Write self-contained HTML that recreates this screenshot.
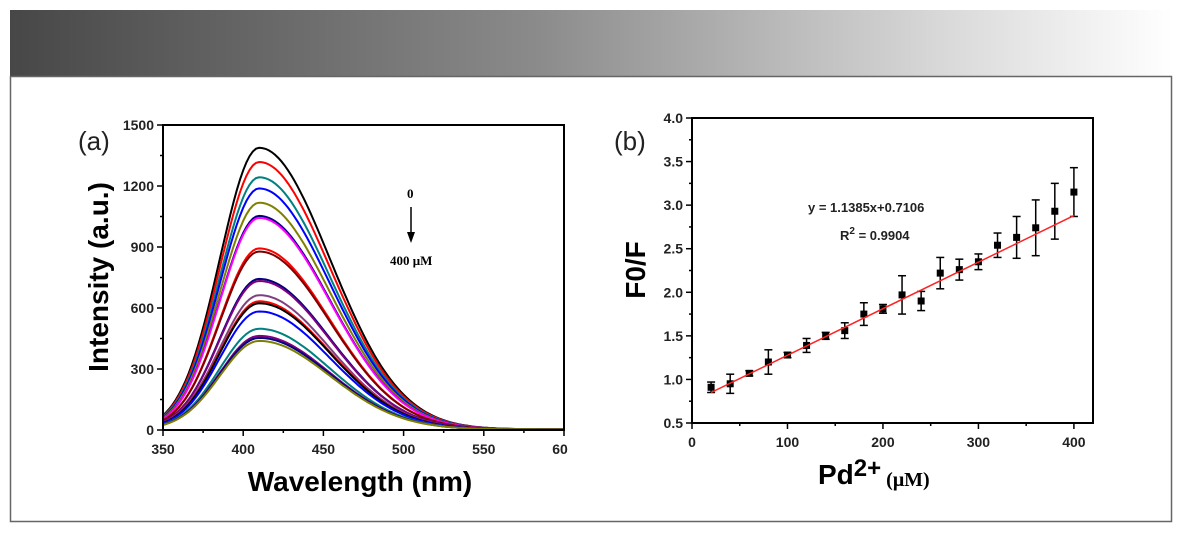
<!DOCTYPE html>
<html><head><meta charset="utf-8"><style>
body{margin:0;width:1182px;height:536px;background:#fff;overflow:hidden;font-family:"Liberation Sans",sans-serif}
svg{position:absolute;left:0;top:0}
</style></head><body>
<svg id="s" width="1182" height="536" xmlns="http://www.w3.org/2000/svg">
<defs><linearGradient id="hg" x1="0" x2="1"><stop offset="0" stop-color="#474747"/><stop offset="0.45" stop-color="#8a8a8a"/><stop offset="0.8" stop-color="#d8d8d8"/><stop offset="1" stop-color="#fff"/></linearGradient></defs>
<rect x="10" y="10" width="1162" height="66" fill="url(#hg)"/>
<rect x="10.5" y="76.5" width="1161" height="445" fill="#fff" stroke="#666" stroke-width="1.5"/>
<g id="a"></g><g id="b"></g>
</svg>
<script>
const NS="http://www.w3.org/2000/svg";
function el(p,t,at,txt){const e=document.createElementNS(NS,t);for(const k in at)e.setAttribute(k,at[k]);if(txt!==undefined)e.textContent=txt;p.appendChild(e);return e;}
// ---- Chart A data ----
const peakIntensities=[1385,1315,1240,1185,1115,1050,1040,890,875,740,730,660,630,620,580,495,460,450,435];
const curveColors=["#000","#f00","#008080","#00f","#808000","#000080","#f0f","#f00","#800000","#000080","#800080","#804080","#f00","#000","#00f","#008080","#800080","#000080","#808000"];
const xTicksA=[350,400,450,500,550,600];
const xTickLabelsA=["350","400","450","500","550","60"];
const yTicksA=[0,300,600,900,1200,1500];
// ---- Chart B data ----
const concs=[20,40,60,80,100,120,140,160,180,200,220,240,260,280,300,320,340,360,380,400];
const ratios=[0.91,0.95,1.07,1.20,1.28,1.39,1.50,1.56,1.75,1.81,1.97,1.90,2.22,2.26,2.35,2.54,2.63,2.74,2.93,3.15];
const errs=[0.06,0.11,0.03,0.14,0.03,0.08,0.04,0.09,0.13,0.05,0.22,0.11,0.18,0.12,0.09,0.14,0.24,0.32,0.32,0.28];
const fitX=[20,400];
const fitY=[0.85,2.88];
const xTicksB=[0,100,200,300,400];
const yTicksB=[0.5,1.0,1.5,2.0,2.5,3.0,3.5,4.0];

const A=document.getElementById('a');
const ax=v=>163+(v-350)/250*401, ay=v=>430-v/1500*305;

function profile(w){const d=w-410;const s=d<0?24.5:44;return Math.exp(-d*d/(2*s*s));}
peakIntensities.forEach((p,i)=>{let d="";for(let w=350;w<=600;w+=2){d+=(w==350?"M":"L")+ax(w).toFixed(1)+","+ay(p*profile(w)+3).toFixed(1);}
const c=el(A,'path',{d:d,fill:'none',stroke:curveColors[i],'stroke-width':2});

});
const fa=el(A,'rect',{x:163,y:125,width:401,height:305,fill:'none',stroke:'#000','stroke-width':2});

xTicksA.forEach((v,i)=>{el(A,'line',{x1:ax(v),x2:ax(v),y1:430,y2:436,stroke:'#000','stroke-width':1.5});
if(i<5)el(A,'line',{x1:ax(v+25),x2:ax(v+25),y1:430,y2:433,stroke:'#000','stroke-width':1.5});
const t=el(A,'text',{x:ax(v)+(i==5?-4:0),y:454,'text-anchor':'middle','font-size':14,'font-weight':'bold',fill:'#222'},xTickLabelsA[i]);
});
yTicksA.forEach((v,i)=>{el(A,'line',{x1:157,x2:163,y1:ay(v),y2:ay(v),stroke:'#000','stroke-width':1.5});
if(i<5)el(A,'line',{x1:160,x2:163,y1:ay(v+150),y2:ay(v+150),stroke:'#000','stroke-width':1.5});
const t=el(A,'text',{x:154,y:ay(v)+5,'text-anchor':'end','font-size':14,'font-weight':'bold',fill:'#222'},v);
});
let t=el(A,'text',{x:360,y:491,'text-anchor':'middle','font-size':28,'font-weight':'bold'},'Wavelength (nm)');
t=el(A,'text',{x:0,y:0,transform:'translate(108,277) rotate(-90)','text-anchor':'middle','font-size':28,'font-weight':'bold'},'Intensity (a.u.)');
t=el(A,'text',{x:78,y:150,'font-size':26,fill:'#222'},'(a)');
t=el(A,'text',{x:407,y:198,'font-size':13,'font-weight':'bold','font-family':'Liberation Serif'},'0');
el(A,'line',{x1:411,x2:411,y1:207,y2:236,stroke:'#000','stroke-width':1.5});
el(A,'path',{d:'M407,232 L415,232 L411,243 Z',fill:'#000'});
t=el(A,'text',{x:390,y:265,'font-size':13,'font-weight':'bold','font-family':'Liberation Serif'},'400 μM');

const B=document.getElementById('b');

const bx=v=>692+v/420*401, by=v=>423-(v-0.5)/3.5*305;
concs.forEach((c,i)=>{const x=bx(c),y1=by(ratios[i]+errs[i]),y2=by(ratios[i]-errs[i]);
const g=el(B,'g',{});
el(g,'line',{x1:x,x2:x,y1:y1,y2:y2,stroke:'#000','stroke-width':1.5});
el(g,'line',{x1:x-4,x2:x+4,y1:y1,y2:y1,stroke:'#000','stroke-width':1.5});
el(g,'line',{x1:x-4,x2:x+4,y1:y2,y2:y2,stroke:'#000','stroke-width':1.5});
el(g,'rect',{x:x-3.5,y:by(ratios[i])-3.5,width:7,height:7,fill:'#000'});});
const fl=el(B,'line',{x1:bx(fitX[0]),y1:by(fitY[0]),x2:bx(fitX[1]),y2:by(fitY[1]),stroke:'#f22','stroke-width':1.5});

const fb=el(B,'rect',{x:692,y:118,width:401,height:305,fill:'none',stroke:'#000','stroke-width':2});

xTicksB.forEach((v,i)=>{el(B,'line',{x1:bx(v),x2:bx(v),y1:423,y2:429,stroke:'#000','stroke-width':1.5});
if(i<xTicksB.length-1)el(B,'line',{x1:bx(v+50),x2:bx(v+50),y1:423,y2:426,stroke:'#000','stroke-width':1.5});
const t=el(B,'text',{x:bx(v),y:447,'text-anchor':'middle','font-size':14,'font-weight':'bold',fill:'#222'},v);
});
yTicksB.forEach((v,i)=>{el(B,'line',{x1:686,x2:692,y1:by(v),y2:by(v),stroke:'#000','stroke-width':1.5});
if(i<7)el(B,'line',{x1:689,x2:692,y1:by(v+0.25),y2:by(v+0.25),stroke:'#000','stroke-width':1.5});
const t=el(B,'text',{x:683,y:by(v)+5,'text-anchor':'end','font-size':14,'font-weight':'bold',fill:'#222'},v.toFixed(1));
});
t=el(B,'text',{x:818,y:484,'font-size':28,'font-weight':'bold'});
el(t,'tspan',{},'Pd');el(t,'tspan',{dy:-8,'font-size':24},'2+');el(t,'tspan',{dy:10,'font-size':20,'font-family':'Liberation Serif'},' (μM)');
t=el(B,'text',{x:0,y:0,transform:'translate(645,270) rotate(-90)','text-anchor':'middle','font-size':28,'font-weight':'bold'},'F0/F');
t=el(B,'text',{x:614,y:150,'font-size':26,fill:'#222'},'(b)');
t=el(B,'text',{x:808,y:212,'font-size':13,'font-weight':'bold',fill:'#222'},'y = 1.1385x+0.7106');
t=el(B,'text',{x:840,y:240,'font-size':13,'font-weight':'bold',fill:'#222'});
el(t,'tspan',{},'R');el(t,'tspan',{dy:-6,'font-size':10},'2');el(t,'tspan',{dy:6},' = 0.9904');
</script>
</body></html>
